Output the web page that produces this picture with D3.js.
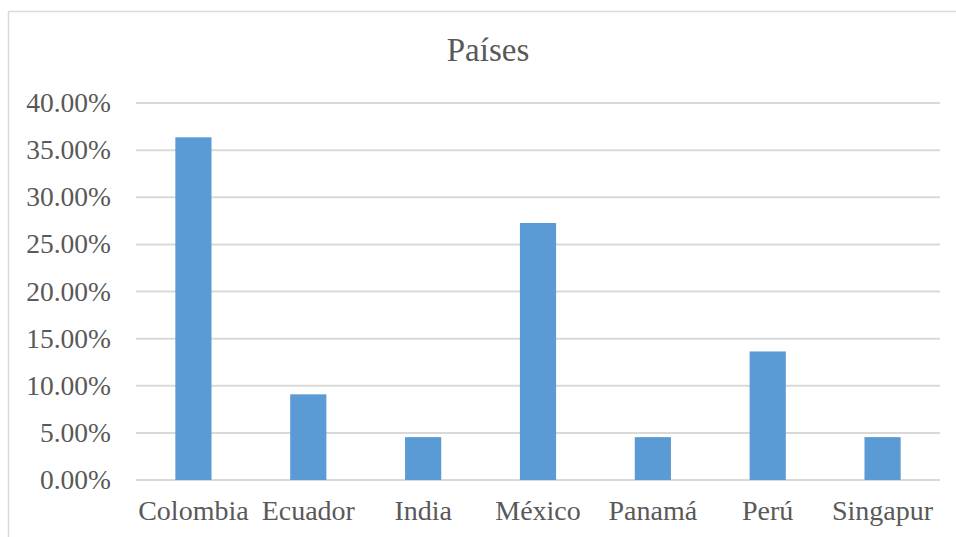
<!DOCTYPE html>
<html>
<head>
<meta charset="utf-8">
<script src="https://cdn.jsdelivr.net/npm/d3@7"></script>
<style>
  body { margin: 0; background: #fff; }
</style>
</head>
<body>
<div id="chart"></div>
<script>
var categories = ['Colombia', 'Ecuador', 'India', 'México', 'Panamá', 'Perú', 'Singapur'];
var values = [0.3636, 0.0909, 0.0455, 0.2727, 0.0455, 0.1364, 0.0455];
var yTicks = [0, 0.05, 0.10, 0.15, 0.20, 0.25, 0.30, 0.35, 0.40];
var title = 'Países';

var width = 956, height = 537;
var margin = { top: 103, right: 16, bottom: 57, left: 136 };
var plotW = width - margin.left - margin.right,
    plotH = height - margin.top - margin.bottom;
var font = "'Liberation Serif'";

var svg = d3.select('#chart').append('svg')
  .attr('width', width)
  .attr('height', height);

// chart frame
svg.append('rect')
  .attr('x', 8.5).attr('y', 11.5)
  .attr('width', 960).attr('height', 540)
  .style('fill', 'none')
  .style('stroke', '#d9d9d9')
  .style('stroke-width', 1.5);

svg.append('text')
  .attr('x', 488).attr('y', 61)
  .attr('text-anchor', 'middle')
  .style('font-family', font)
  .style('font-size', '33px')
  .style('fill', '#595959')
  .text(title);

var g = svg.append('g')
  .attr('transform', 'translate(' + margin.left + ',' + margin.top + ')');

var x = d3.scaleBand().domain(categories).range([0, plotW]).padding(0);
var y = d3.scaleLinear().domain([0, 0.40]).range([plotH, 0]);

// gridlines
g.selectAll('.grid')
  .data(yTicks)
  .enter().append('line')
    .attr('class', 'grid')
    .attr('x1', 0).attr('x2', plotW)
    .attr('y1', function(d){ return y(d); })
    .attr('y2', function(d){ return y(d); })
    .style('stroke', '#d9d9d9')
    .style('stroke-width', 2);

// y labels
g.selectAll('.ylab')
  .data(yTicks)
  .enter().append('text')
    .attr('class', 'ylab')
    .attr('x', -25)
    .attr('y', function(d){ return y(d) + 9; })
    .attr('text-anchor', 'end')
    .style('font-family', font)
    .style('font-size', '27.5px')
    .style('fill', '#595959')
    .text(function(d){ return (d * 100).toFixed(2) + '%'; });

// bars
var barW = x.bandwidth() * 0.315;
g.selectAll('.bar')
  .data(values)
  .enter().append('rect')
    .attr('class', 'bar')
    .attr('x', function(d, i){ return x(categories[i]) + x.bandwidth() / 2 - barW / 2; })
    .attr('y', function(d){ return y(d); })
    .attr('width', barW)
    .attr('height', function(d){ return y(0) - y(d); })
    .style('fill', '#5b9bd5');

// x labels
g.selectAll('.xlab')
  .data(categories)
  .enter().append('text')
    .attr('class', 'xlab')
    .attr('x', function(d){ return x(d) + x.bandwidth() / 2; })
    .attr('y', plotH + 40)
    .attr('text-anchor', 'middle')
    .style('font-family', font)
    .style('font-size', '28px')
    .style('fill', '#595959')
    .text(function(d){ return d; });
</script>
</body>
</html>
